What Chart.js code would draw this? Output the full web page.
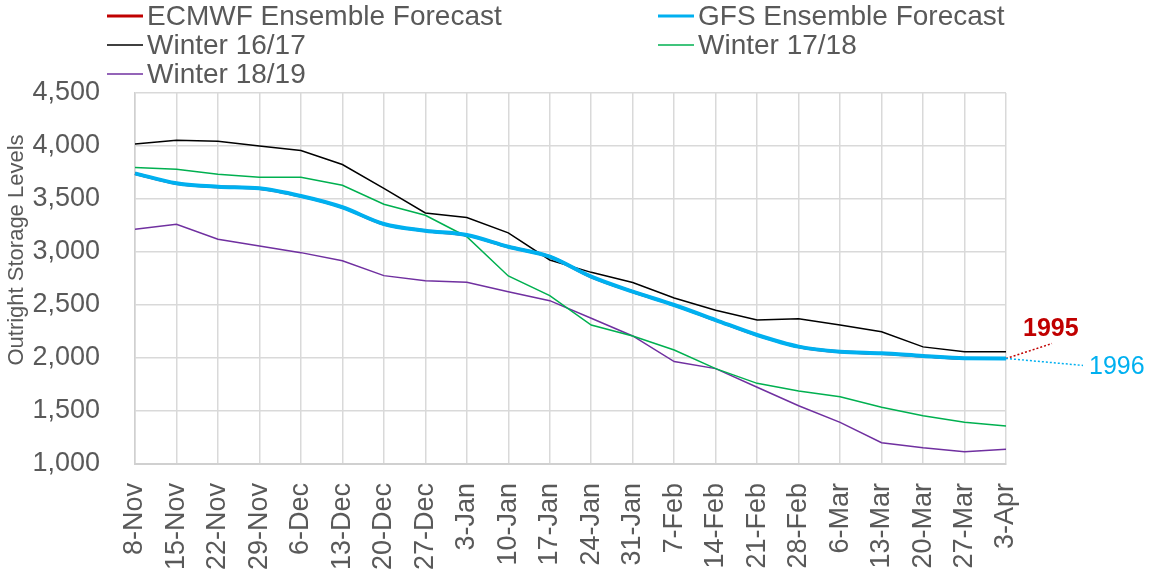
<!DOCTYPE html>
<html>
<head>
<meta charset="utf-8">
<script src="https://cdn.jsdelivr.net/npm/chart.js@4.4.1/dist/chart.umd.min.js"></script>
<style>
  html, body { margin: 0; padding: 0; background: #fff; }
  #wrap { width: 1161px; height: 572px; }
</style>
</head>
<body>
<div id="wrap"><canvas id="myChart" width="1161" height="572"></canvas></div>
<script>
// Week labels on the x axis
var weeks = ['8-Nov', '15-Nov', '22-Nov', '29-Nov', '6-Dec', '13-Dec', '20-Dec', '27-Dec',
  '3-Jan', '10-Jan', '17-Jan', '24-Jan', '31-Jan', '7-Feb', '14-Feb', '21-Feb', '28-Feb',
  '6-Mar', '13-Mar', '20-Mar', '27-Mar', '3-Apr'];

// Storage levels
var ecmwf = [3740, 3646, 3615, 3600, 3527, 3421, 3263, 3200, 3159, 3049, 2955, 2766, 2625,
  2499, 2357, 2216, 2106, 2058, 2043, 2018, 1996, 1995];
var gfs = [3742, 3648, 3616, 3601, 3528, 3422, 3264, 3201, 3160, 3050, 2956, 2767, 2626,
  2500, 2358, 2217, 2107, 2059, 2044, 2019, 1997, 1996];
var winter1617 = [4018, 4055, 4045, 4000, 3958, 3825, 3600, 3368, 3325, 3180, 2925, 2808, 2712,
  2566, 2450, 2358, 2370, 2311, 2247, 2105, 2058, 2058];
var winter1718 = [3796, 3780, 3733, 3705, 3705, 3629, 3450, 3346, 3144, 2774, 2588, 2311, 2208,
  2075, 1900, 1761, 1689, 1635, 1535, 1456, 1393, 1358];
var winter1819 = [3214, 3261, 3120, 3057, 2994, 2918, 2777, 2729, 2714, 2626, 2541, 2375, 2208,
  1966, 1900, 1724, 1550, 1393, 1201, 1154, 1116, 1138];

// End-of-season call-outs for the two forecasts
var endLabels = ['1995', '1996'];

var FONT = '"Liberation Sans", Arial, sans-serif';
var GREY = '#595959';

// Legend drawn in two fixed columns, like the original
var legendItems = [
  { ds: 0, col: 0, row: 0 },
  { ds: 1, col: 1, row: 0 },
  { ds: 2, col: 0, row: 1 },
  { ds: 3, col: 1, row: 1 },
  { ds: 4, col: 0, row: 2 }
];

var legendPlugin = {
  id: 'gridLegend',
  afterDraw: function (chart) {
    var ctx = chart.ctx;
    var colX = [107, 658];
    ctx.save();
    ctx.font = '28px ' + FONT;
    ctx.textBaseline = 'middle';
    ctx.textAlign = 'left';
    legendItems.forEach(function (item) {
      var ds = chart.data.datasets[item.ds];
      var x = colX[item.col];
      var y = 16 + item.row * 29;
      ctx.strokeStyle = ds.borderColor;
      ctx.lineWidth = ds.borderWidth > 2 ? 3 : 1.5;
      ctx.beginPath();
      ctx.moveTo(x, y);
      ctx.lineTo(x + 36, y);
      ctx.stroke();
      ctx.fillStyle = GREY;
      ctx.fillText(ds.label, x + 40, y + 1);
    });

    // y axis title, sitting a little above the middle of the axis
    ctx.translate(17, 250);
    ctx.rotate(-Math.PI / 2);
    ctx.font = '22px ' + FONT;
    ctx.textAlign = 'center';
    ctx.fillText('Outright Storage Levels', 0, 0);
    ctx.restore();
  }
};

// Dotted leader lines and value labels at the last forecast point
var calloutPlugin = {
  id: 'callouts',
  afterDatasetsDraw: function (chart) {
    var ctx = chart.ctx;
    var specs = [
      { ds: 0, text: endLabels[0], color: '#c00000', bold: true, lx: 46, ly: -15, tx: 17, ty: -29 },
      { ds: 1, text: endLabels[1], color: '#00b0f0', bold: false, lx: 77, ly: 7, tx: 83, ty: 9 }
    ];
    ctx.save();
    specs.forEach(function (s) {
      var pts = chart.getDatasetMeta(s.ds).data;
      var p = pts[pts.length - 1];
      ctx.strokeStyle = s.color;
      ctx.lineWidth = 1.5;
      ctx.setLineDash([2, 2]);
      ctx.beginPath();
      ctx.moveTo(p.x, p.y);
      ctx.lineTo(p.x + s.lx, p.y + s.ly);
      ctx.stroke();
      ctx.setLineDash([]);
      ctx.fillStyle = s.color;
      ctx.font = (s.bold ? 'bold ' : '') + '25px ' + FONT;
      ctx.textAlign = 'left';
      ctx.textBaseline = 'middle';
      ctx.fillText(s.text, p.x + s.tx, p.y + s.ty);
    });
    ctx.restore();
  }
};

var ctx = document.getElementById('myChart').getContext('2d');
var myChart = new Chart(ctx, {
  type: 'line',
  data: {
    labels: weeks,
    datasets: [{
      label: 'ECMWF Ensemble Forecast',
      data: ecmwf,
      borderColor: '#c00000',
      borderWidth: 3,
      cubicInterpolationMode: 'monotone',
      order: 1
    }, {
      label: 'GFS Ensemble Forecast',
      data: gfs,
      borderColor: '#00b0f0',
      borderWidth: 4,
      cubicInterpolationMode: 'monotone',
      order: 0
    }, {
      label: 'Winter 16/17',
      data: winter1617,
      borderColor: '#000000',
      borderWidth: 1.5,
      order: 2
    }, {
      label: 'Winter 17/18',
      data: winter1718,
      borderColor: '#00b050',
      borderWidth: 1.5,
      order: 3
    }, {
      label: 'Winter 18/19',
      data: winter1819,
      borderColor: '#7030a0',
      borderWidth: 1.5,
      order: 4
    }]
  },
  options: {
    responsive: false,
    animation: false,
    devicePixelRatio: 1,
    elements: {
      point: { radius: 0 },
      line: { tension: 0 }
    },
    layout: {
      padding: { top: 93, left: 0, right: 155, bottom: 0 }
    },
    plugins: {
      legend: { display: false },
      tooltip: { enabled: false }
    },
    scales: {
      x: {
        offset: false,
        grid: { color: '#d9d9d9', lineWidth: 1.5, drawTicks: false },
        border: { color: '#d0d0d0', width: 2 },
        ticks: {
          color: GREY,
          font: { family: FONT, size: 27 },
          maxRotation: 90,
          minRotation: 90,
          autoSkip: false,
          padding: 19
        },
        afterFit: function (scale) { scale.height = 108; }
      },
      y: {
        min: 1000,
        max: 4500,
        grid: { color: '#d9d9d9', lineWidth: 1.5, drawTicks: false },
        border: { color: '#d0d0d0', width: 1.5 },
        ticks: {
          stepSize: 500,
          color: GREY,
          font: { family: FONT, size: 27 },
          padding: 35
        },
        afterFit: function (scale) { scale.width = 135; }
      }
    }
  },
  plugins: [legendPlugin, calloutPlugin]
});
</script>
</body>
</html>
